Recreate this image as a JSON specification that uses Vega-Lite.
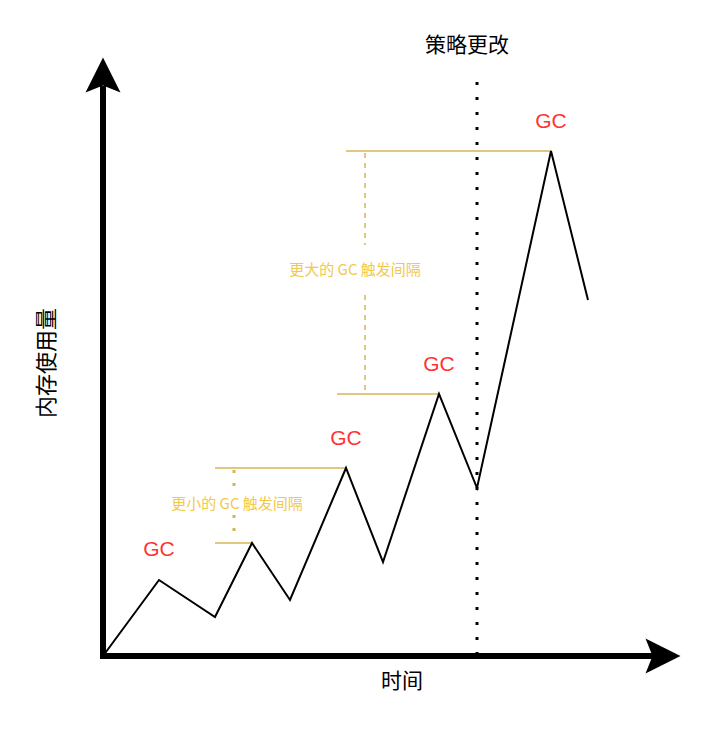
{
  "$schema": "https://vega.github.io/schema/vega-lite/v6.json",
  "width": 720,
  "height": 731,
  "autosize": {"type": "fit", "contains": "padding"},
  "padding": 0,
  "background": "white",
  "config": {"view": {"stroke": null}},
  "layer": [
    {
      "data": {"values": [
        {"t": 131, "m1": 186, "m2": 162},
        {"t": 131, "m1": 141, "m2": 115}
      ]},
      "mark": {"type": "rule", "color": "#d6b656", "strokeWidth": 3, "strokeDash": [3, 10]},
      "encoding": {
        "x": {"field": "t", "type": "quantitative", "scale": {"domain": [-103, 617], "nice": false, "zero": false}, "axis": null},
        "y": {"field": "m1", "type": "quantitative", "scale": {"domain": [-75, 656], "nice": false, "zero": false}, "axis": null},
        "y2": {"field": "m2"}
      }
    },
    {
      "data": {"values": [
        {"t": 262, "m1": 503, "m2": 411},
        {"t": 262, "m1": 361, "m2": 264}
      ]},
      "mark": {"type": "rule", "color": "#d6b656", "strokeWidth": 1.5, "strokeDash": [5, 5]},
      "encoding": {
        "x": {"field": "t", "type": "quantitative"},
        "y": {"field": "m1", "type": "quantitative"},
        "y2": {"field": "m2"}
      }
    },
    {
      "data": {"values": [
        {"t1": 112, "t2": 243, "m": 188},
        {"t1": 112, "t2": 149, "m": 113},
        {"t1": 234, "t2": 336, "m": 262},
        {"t1": 243, "t2": 448, "m": 505}
      ]},
      "mark": {"type": "rule", "color": "#d6b656", "strokeWidth": 1.5},
      "encoding": {
        "x": {"field": "t1", "type": "quantitative"},
        "x2": {"field": "t2"},
        "y": {"field": "m", "type": "quantitative"}
      }
    },
    {
      "data": {"values": [{"t": 374, "m1": 574, "m2": 0}]},
      "mark": {"type": "rule", "color": "black", "strokeWidth": 3, "strokeDash": [3, 12]},
      "encoding": {
        "x": {"field": "t", "type": "quantitative"},
        "y": {"field": "m1", "type": "quantitative"},
        "y2": {"field": "m2"}
      }
    },
    {
      "data": {"values": [
        {"t": 0, "m": 0},
        {"t": 56, "m": 76},
        {"t": 112, "m": 39},
        {"t": 149, "m": 113},
        {"t": 187, "m": 56},
        {"t": 243, "m": 188},
        {"t": 280, "m": 94},
        {"t": 336, "m": 262},
        {"t": 374, "m": 168},
        {"t": 448, "m": 505},
        {"t": 485, "m": 356}
      ]},
      "mark": {"type": "line", "color": "black", "strokeWidth": 2, "strokeJoin": "miter"},
      "encoding": {
        "x": {"field": "t", "type": "quantitative"},
        "y": {"field": "m", "type": "quantitative"},
        "order": {"field": "t"}
      }
    },
    {
      "data": {"values": [{"t1": 0, "t2": 0, "m1": -3, "m2": 570}]},
      "mark": {"type": "rule", "color": "black", "strokeWidth": 6},
      "encoding": {
        "x": {"field": "t1", "type": "quantitative"},
        "y": {"field": "m1", "type": "quantitative"},
        "y2": {"field": "m2"}
      }
    },
    {
      "data": {"values": [{"t1": -3, "t2": 552, "m": 0}]},
      "mark": {"type": "rule", "color": "black", "strokeWidth": 6},
      "encoding": {
        "x": {"field": "t1", "type": "quantitative"},
        "x2": {"field": "t2"},
        "y": {"field": "m", "type": "quantitative"}
      }
    },
    {
      "data": {"values": [{"t": 0, "m": 581}]},
      "mark": {"type": "point", "shape": "M0,-1L1,1L0,0.6L-1,1Z", "size": 1225, "filled": true, "color": "black", "opacity": 1, "strokeWidth": 0},
      "encoding": {
        "x": {"field": "t", "type": "quantitative"},
        "y": {"field": "m", "type": "quantitative"}
      }
    },
    {
      "data": {"values": [{"t": 560, "m": 0}]},
      "mark": {"type": "point", "shape": "M1,0L-1,1L-0.6,0L-1,-1Z", "size": 1225, "filled": true, "color": "black", "opacity": 1, "strokeWidth": 0},
      "encoding": {
        "x": {"field": "t", "type": "quantitative"},
        "y": {"field": "m", "type": "quantitative"}
      }
    },
    {
      "data": {"values": [
        {"t": 56, "m": 106, "label": "GC"},
        {"t": 243, "m": 217, "label": "GC"},
        {"t": 336, "m": 291, "label": "GC"},
        {"t": 448, "m": 534, "label": "GC"}
      ]},
      "mark": {"type": "text", "color": "#ff3333", "fontSize": 21, "font": "Liberation Sans", "align": "center", "baseline": "middle"},
      "encoding": {
        "x": {"field": "t", "type": "quantitative"},
        "y": {"field": "m", "type": "quantitative"},
        "text": {"field": "label"}
      }
    },
    {
      "data": {"values": [
        {"t": 134, "m": 152, "label": "更小的 GC 触发间隔"},
        {"t": 252, "m": 386, "label": "更大的 GC 触发间隔"}
      ]},
      "mark": {"type": "text", "color": "#f2c94c", "fontSize": 15, "font": "Noto Sans CJK SC", "align": "center", "baseline": "middle"},
      "encoding": {
        "x": {"field": "t", "type": "quantitative"},
        "y": {"field": "m", "type": "quantitative"},
        "text": {"field": "label"}
      }
    },
    {
      "data": {"values": [
        {"t": 364, "m": 610, "label": "策略更改"},
        {"t": 299, "m": -26, "label": "时间"}
      ]},
      "mark": {"type": "text", "color": "black", "fontSize": 21, "font": "Noto Sans CJK SC", "align": "center", "baseline": "middle"},
      "encoding": {
        "x": {"field": "t", "type": "quantitative"},
        "y": {"field": "m", "type": "quantitative"},
        "text": {"field": "label"}
      }
    },
    {
      "data": {"values": [{"t": -56, "m": 293, "label": "内存使用量"}]},
      "mark": {"type": "text", "color": "black", "fontSize": 22, "font": "Noto Sans CJK SC", "align": "center", "baseline": "middle", "angle": 270},
      "encoding": {
        "x": {"field": "t", "type": "quantitative"},
        "y": {"field": "m", "type": "quantitative"},
        "text": {"field": "label"}
      }
    }
  ]
}
